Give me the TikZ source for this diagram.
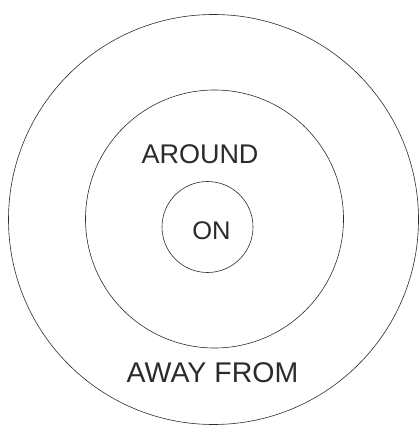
\documentclass[tikz,border=0pt]{standalone}
\usepackage{fontspec}
\setmainfont{Liberation Sans}
\usetikzlibrary{positioning}
\definecolor{inkgray}{HTML}{2B2B2B}

\begin{document}
\begin{tikzpicture}[
  x=1pt,y=-1pt,
  ring/.style={draw=inkgray,circle,line width=.6pt,inner sep=0pt},
  word/.style={text=inkgray,font=\fontsize{27}{32}\selectfont,inner sep=0pt,anchor=center}
]
\useasboundingbox (0,0) rectangle (419,427);
\node[ring,minimum size=410pt] (outer) at (213.5,219.5) {};
\node[ring,minimum size=258pt] (middle) at (214.5,219) {};
\node[ring,minimum size=91pt] (inner) at (207.5,227) {};
\node[word] (around) at (200,154) {AROUND};
\node[word,font=\fontsize{25.5}{30}\selectfont] (on) at (211.5,231) {ON};
\node[word,font=\fontsize{28.5}{32}\selectfont] (away) at (212.5,373) {AWAY FROM};
\end{tikzpicture}
\end{document}
